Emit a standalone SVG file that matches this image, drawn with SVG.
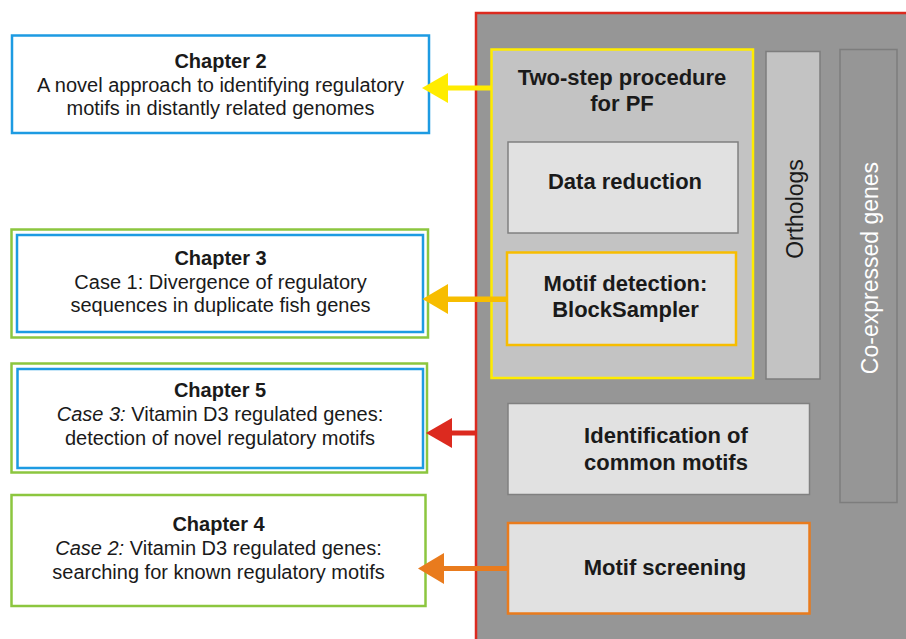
<svg xmlns="http://www.w3.org/2000/svg" width="906" height="639" viewBox="0 0 906 639">
<style>
  text { font-family: "Liberation Sans", Arial, sans-serif; fill: #1a1a1a; }
  .ch { font-size: 20px; text-anchor: middle; }
  .chb { font-size: 20px; font-weight: bold; text-anchor: middle; }
  .rb { font-size: 22px; font-weight: bold; text-anchor: middle; }
  .blue { fill: #ffffff; stroke: #1d9be2; stroke-width: 2.5; }
  .green { fill: #ffffff; stroke: #8cc63f; stroke-width: 2.5; }
  .light { fill: #e1e1e1; stroke: #808080; stroke-width: 1.5; }
</style>
<rect width="906" height="639" fill="#ffffff"/>

<g id="frame">
  <rect x="476" y="13" width="440" height="640" fill="#969696" stroke="#dc2a1f" stroke-width="2.5"/>
</g>

<g id="two-step">
  <rect x="491.5" y="49.5" width="261.5" height="328.5" fill="#c3c3c3" stroke="#ffec00" stroke-width="2.5"/>
  <text class="rb" x="622" y="85">Two-step procedure</text>
  <text class="rb" x="622" y="111">for PF</text>
</g>

<g id="data-reduction">
  <rect class="light" x="508" y="142" width="230" height="91"/>
  <text class="rb" x="625" y="189">Data reduction</text>
</g>

<g id="motif-detection">
  <rect x="507" y="252.5" width="229" height="92.5" fill="#e1e1e1" stroke="#f7bd00" stroke-width="2.5"/>
  <text class="rb" x="625.5" y="291">Motif detection:</text>
  <text class="rb" x="625.5" y="317">BlockSampler</text>
</g>

<g id="orthologs">
  <rect x="766" y="51.5" width="54" height="327.5" fill="#c3c3c3" stroke="#7d7d7d" stroke-width="1.5"/>
  <text x="803" y="209" font-size="23" text-anchor="middle" fill="#222222" transform="rotate(-90 803 209)">Orthologs</text>
</g>

<g id="co-expressed">
  <rect x="840" y="49.5" width="57" height="453" fill="#969696" stroke="#7d7d7d" stroke-width="1.5"/>
  <text x="878" y="268" font-size="23" text-anchor="middle" style="fill:#ffffff" transform="rotate(-90 878 268)">Co-expressed genes</text>
</g>

<g id="identification">
  <rect class="light" x="508" y="403.5" width="301.5" height="91"/>
  <text class="rb" x="666" y="443">Identification of</text>
  <text class="rb" x="666" y="470">common motifs</text>
</g>

<g id="motif-screening">
  <rect x="508" y="523" width="301.5" height="90.5" fill="#e1e1e1" stroke="#e97b1d" stroke-width="2.5"/>
  <text class="rb" x="665" y="575">Motif screening</text>
</g>

<g id="chapter2">
  <rect class="blue" x="12" y="35.5" width="417" height="97.5"/>
  <text class="chb" x="220.5" y="68">Chapter 2</text>
  <text class="ch" x="220.5" y="92">A novel approach to identifying regulatory</text>
  <text class="ch" x="220.5" y="115">motifs in distantly related genomes</text>
</g>

<g id="chapter3">
  <rect class="green" x="11.5" y="229.5" width="416.5" height="108"/>
  <rect class="blue" x="17" y="235" width="406" height="97"/>
  <text class="chb" x="220.5" y="265">Chapter 3</text>
  <text class="ch" x="220.5" y="289">Case 1: Divergence of regulatory</text>
  <text class="ch" x="220.5" y="312">sequences in duplicate fish genes</text>
</g>

<g id="chapter5">
  <rect class="green" x="11.5" y="363.5" width="415.5" height="109"/>
  <rect class="blue" x="17.5" y="369" width="405.5" height="99"/>
  <text class="chb" x="220" y="397">Chapter 5</text>
  <text class="ch" x="220" y="421"><tspan font-style="italic">Case 3:</tspan> Vitamin D3 regulated genes:</text>
  <text class="ch" x="220" y="445">detection of novel regulatory motifs</text>
</g>

<g id="chapter4">
  <rect class="green" x="11.5" y="495" width="414" height="111"/>
  <text class="chb" x="218.5" y="531">Chapter 4</text>
  <text class="ch" x="218.5" y="555"><tspan font-style="italic">Case 2:</tspan> Vitamin D3 regulated genes:</text>
  <text class="ch" x="218.5" y="579">searching for known regulatory motifs</text>
</g>

<g id="connectors">
  <g fill="#ffec00">
    <rect x="447" y="85.5" width="44.5" height="5"/>
    <polygon points="422,88 448,73 448,103"/>
  </g>
  <g fill="#f7bd00">
    <rect x="447" y="296.5" width="60" height="5.5"/>
    <polygon points="422.5,299 448,284 448,314"/>
  </g>
  <g fill="#dc2a1f">
    <rect x="451" y="430.5" width="25" height="5"/>
    <polygon points="426,433 452,418 452,448"/>
  </g>
  <g fill="#e97b1d">
    <rect x="443" y="566" width="65" height="5"/>
    <polygon points="418,568.5 444,553 444,584"/>
  </g>
</g>
</svg>
